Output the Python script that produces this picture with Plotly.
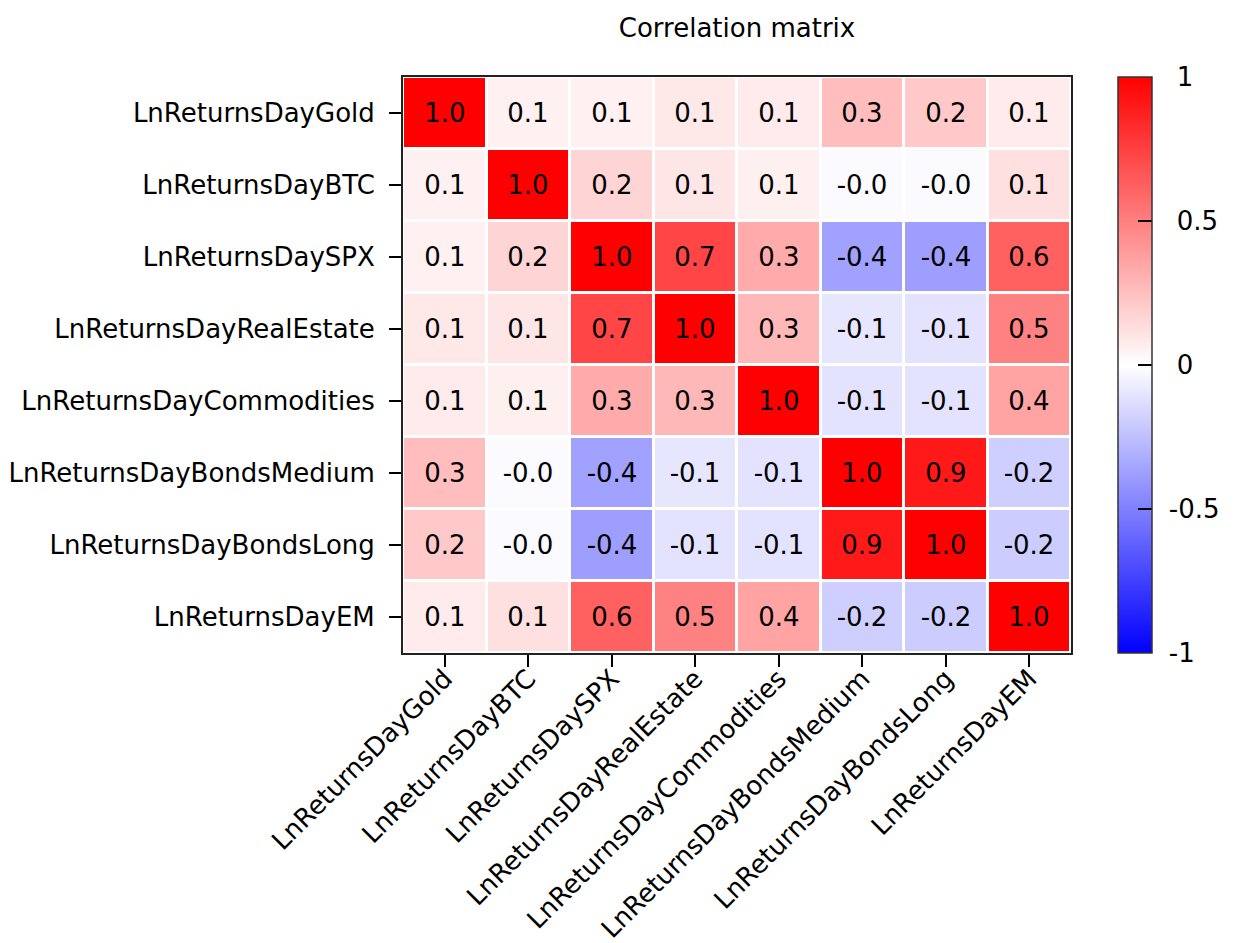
import plotly.graph_objects as go

# Asset return series (daily log returns)
assets = [
    "LnReturnsDayGold",
    "LnReturnsDayBTC",
    "LnReturnsDaySPX",
    "LnReturnsDayRealEstate",
    "LnReturnsDayCommodities",
    "LnReturnsDayBondsMedium",
    "LnReturnsDayBondsLong",
    "LnReturnsDayEM",
]

# Pairwise correlation coefficients, one row per asset
row_gold = [1.00, 0.055, 0.055, 0.09, 0.08, 0.26, 0.21, 0.08]
row_btc = [0.055, 1.00, 0.17, 0.10, 0.06, -0.02, -0.02, 0.12]
row_spx = [0.055, 0.17, 1.00, 0.73, 0.33, -0.37, -0.38, 0.62]
row_realestate = [0.09, 0.10, 0.73, 1.00, 0.28, -0.10, -0.11, 0.49]
row_commodities = [0.08, 0.06, 0.33, 0.28, 1.00, -0.11, -0.11, 0.36]
row_bondsmedium = [0.26, -0.02, -0.37, -0.10, -0.11, 1.00, 0.90, -0.19]
row_bondslong = [0.21, -0.02, -0.38, -0.11, -0.11, 0.90, 1.00, -0.20]
row_em = [0.08, 0.12, 0.62, 0.49, 0.36, -0.19, -0.20, 1.00]

corr = [
    row_gold,
    row_btc,
    row_spx,
    row_realestate,
    row_commodities,
    row_bondsmedium,
    row_bondslong,
    row_em,
]

colorbar_ticks = [-1, -0.5, 0, 0.5, 1]

# Cell annotations keep the sign of small negatives ("-0.0")
cell_text = [[f"{v:.1f}" for v in row] for row in corr]

# Colorbar labels, padded away from the bar edge
colorbar_labels = [
    ("\u2009\u2009" if t < 0 else "\u2002\u2009") + f"{t:g}" for t in colorbar_ticks
]

font_family = "DejaVu Sans"
label_size = 26

fig = go.Figure(
    go.Heatmap(
        z=corr,
        x=assets,
        y=assets,
        zmin=-1,
        zmax=1,
        colorscale=[[0.0, "rgb(0,0,255)"], [0.5, "rgb(255,255,255)"], [1.0, "rgb(255,0,0)"]],
        xgap=3,
        ygap=3,
        text=cell_text,
        texttemplate="%{text}",
        textfont=dict(family=font_family, size=label_size, color="black"),
        colorbar=dict(
            x=1.07,
            xanchor="left",
            xpad=0,
            y=0.5,
            yanchor="middle",
            len=1.0,
            lenmode="fraction",
            ypad=0,
            thickness=34,
            outlinecolor="#333333",
            outlinewidth=1.5,
            tickvals=colorbar_ticks,
            ticktext=colorbar_labels,
            ticks="inside",
            ticklen=14,
            tickcolor="black",
            tickwidth=1.5,
            tickfont=dict(family=font_family, size=label_size, color="black"),
        ),
    )
)

fig.update_layout(
    width=1237,
    height=943,
    margin=dict(l=403, r=166, t=77, b=290, autoexpand=False),
    paper_bgcolor="white",
    plot_bgcolor="white",
    title=dict(
        text="Correlation matrix",
        x=(403 + 668 / 2) / 1237,
        xanchor="center",
        y=1 - 28 / 943,
        yanchor="middle",
        font=dict(family=font_family, size=26, color="black"),
    ),
    font=dict(family=font_family, size=label_size, color="black"),
)

axis_style = dict(
    ticks="outside",
    ticklen=12,
    tickwidth=1.5,
    tickcolor="black",
    showline=True,
    linecolor="#222222",
    linewidth=2,
    mirror=True,
    showgrid=False,
    zeroline=False,
    automargin=False,
    tickfont=dict(family=font_family, size=label_size, color="black"),
)

fig.update_xaxes(tickangle=-45, ticklabelstandoff=-14, **axis_style)
fig.update_yaxes(autorange="reversed", ticklabelstandoff=9, **axis_style)

fig.write_html("out.html")
